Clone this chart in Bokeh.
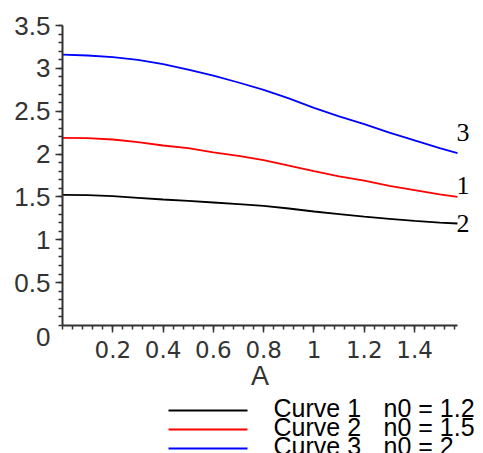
import numpy as np
from bokeh.plotting import figure
from bokeh.models import Range1d, FixedTicker, Label, LinearAxis
from bokeh.embed import file_html
from bokeh.resources import INLINE
from bokeh.core.properties import value

# ---- data ----
A = [0.0, 0.1, 0.2, 0.3, 0.4, 0.5, 0.6, 0.7, 0.8, 0.9, 1.0, 1.1, 1.2, 1.3, 1.4, 1.5, 1.5708]
curve1 = [1.525, 1.52, 1.51, 1.49, 1.47, 1.455, 1.435, 1.415, 1.395, 1.365, 1.33, 1.30, 1.27, 1.245, 1.22, 1.20, 1.19]
curve2 = [2.19, 2.185, 2.17, 2.14, 2.10, 2.07, 2.02, 1.98, 1.93, 1.865, 1.80, 1.74, 1.69, 1.63, 1.58, 1.53, 1.50]
curve3 = [3.16, 3.15, 3.13, 3.10, 3.05, 2.985, 2.915, 2.835, 2.75, 2.65, 2.54, 2.44, 2.35, 2.25, 2.16, 2.07, 2.01]
curve_colors = ["#000000", "#ff0000", "#0000ff"]

x_ticks = [0.2, 0.4, 0.6, 0.8, 1.0, 1.2, 1.4]
y_ticks = [0.5, 1.0, 1.5, 2.0, 2.5, 3.0, 3.5]

curve_tags = ["3", "1", "2"]
curve_tag_y = [2.25, 1.63, 1.19]

legend_names = ["Curve 1", "Curve 2", "Curve 3"]
legend_n0 = ["n0 = 1.2", "n0 = 1.5", "n0 = 2"]
legend_rows = [0, 1, 2]

X_END = 1.5708
Y_END = 3.5

# ---- figure: frame covers the whole canvas, axes are fixed at the origin ----
p = figure(width=483, height=453,
           x_range=Range1d(-0.24656, 1.6742), y_range=Range1d(-1.4933, 3.7917),
           x_axis_type=None, y_axis_type=None,
           output_backend="svg", toolbar_location=None,
           min_border_left=0, min_border_right=0, min_border_top=0, min_border_bottom=0)
p.outline_line_color = None
p.background_fill_color = "white"
p.border_fill_color = "white"

# scales for the legend strip (screen-like positions)
p.extra_x_ranges = {"legx": Range1d(0, 483)}
p.extra_y_ranges = {"legy": Range1d(2.263, -21.579)}

for ys, c in zip([curve1, curve2, curve3], curve_colors):
    p.line(A, ys, line_color=c, line_width=1.8)

xaxis = LinearAxis(fixed_location=0, bounds=(0, X_END),
                   ticker=FixedTicker(ticks=x_ticks,
                                      minor_ticks=list(np.round(np.arange(0, 1.57, 0.04), 3))))
yaxis = LinearAxis(fixed_location=0, bounds=(0, Y_END),
                   ticker=FixedTicker(ticks=y_ticks,
                                      minor_ticks=list(np.round(np.arange(0, 3.51, 0.1), 3))))
xaxis.major_label_overrides = {t: ("1" if t == 1.0 else str(t)) for t in x_ticks}
yaxis.major_label_overrides = {t: ("%g" % t) for t in y_ticks}

for ax in (xaxis, yaxis):
    ax.axis_line_color = "#333333"
    ax.axis_line_width = 2
    ax.major_tick_line_color = "#333333"
    ax.minor_tick_line_color = "#333333"
    ax.major_tick_line_width = 1.5
    ax.minor_tick_line_width = 1.5
    ax.major_tick_out = 7
    ax.major_tick_in = 0
    ax.minor_tick_out = 4
    ax.minor_tick_in = 0
    ax.major_label_text_color = "#333333"

yaxis.major_label_text_font = "Liberation Sans"
yaxis.major_label_text_font_size = "26px"
yaxis.major_label_standoff = 5
xaxis.major_label_text_font = "DejaVu Sans"
xaxis.major_label_text_font_size = "23px"
xaxis.major_label_standoff = 8
xaxis.axis_label = "A"
xaxis.axis_label_text_font = "Liberation Sans"
xaxis.axis_label_text_font_size = "27px"
xaxis.axis_label_text_font_style = "normal"
xaxis.axis_label_text_color = "#333333"
xaxis.axis_label_standoff = 0

p.add_layout(xaxis, "below")
p.add_layout(yaxis, "left")

p.add_layout(Label(x=0, y=0, text="0", text_align="right", text_baseline="top",
                   x_offset=-12, y_offset=-2, text_font="Liberation Sans",
                   text_font_size="26px", text_color="#333333"))

for t, ty in zip(curve_tags, curve_tag_y):
    p.add_layout(Label(x=X_END, y=ty, text=t, text_align="left", text_baseline="middle",
                       x_offset=-1, text_font="Liberation Serif", text_font_size="26px",
                       text_color="#000000"))

# ---- legend ----
p.segment(x0=[168] * 3, y0=legend_rows, x1=[247] * 3, y1=legend_rows,
          line_color=curve_colors, line_width=2, x_range_name="legx", y_range_name="legy")
p.text(x=[273] * 3, y=legend_rows, text=legend_names, text_font=value("Liberation Sans"),
       text_font_size="25px", text_baseline="middle", text_color="#000000", y_offset=-3,
       x_range_name="legx", y_range_name="legy")
p.text(x=[383] * 3, y=legend_rows, text=legend_n0, text_font=value("Liberation Sans"),
       text_font_size="25px", text_baseline="middle", text_color="#000000", y_offset=-3,
       x_range_name="legx", y_range_name="legy")

open("out.html", "w").write(file_html(p, INLINE))
